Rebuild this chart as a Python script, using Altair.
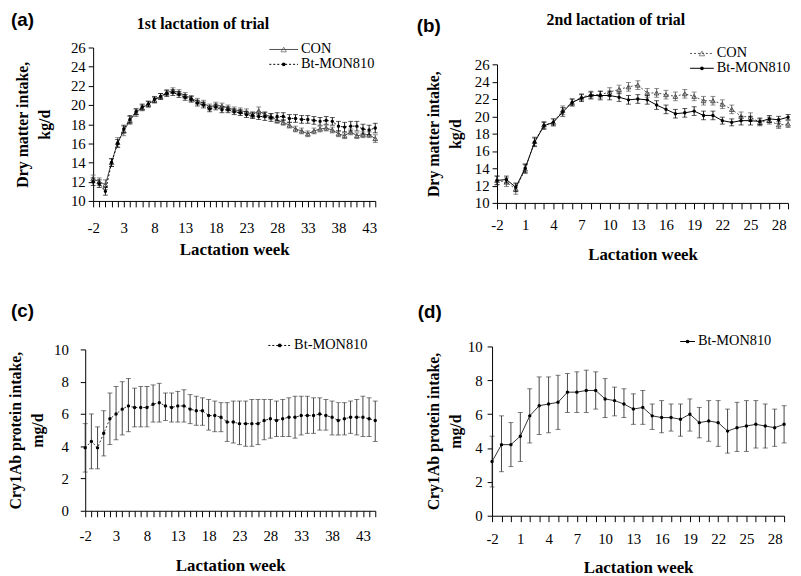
import altair as alt
import pandas as pd

# ---------------- data ----------------
weeks_a = list(range(-2, 45))
con_a = [12.3, 12.0, 11.7, 14.0, 16.1, 17.3, 18.4, 19.2, 19.7, 20.1,
         20.5, 20.9, 21.3, 21.5, 21.3, 21.0, 20.7, 20.4, 20.2, 19.8,
         20.0, 19.9, 19.7, 19.5, 19.4, 19.3, 19.0, 19.4, 19.0, 18.8,
         18.4, 18.2, 17.9, 17.5, 17.3, 17.0, 17.3, 17.5, 17.6, 17.4,
         17.0, 16.8, 17.2, 16.8, 16.9, 16.9, 16.5]
con_a_se = [0.4, 0.4, 0.5, 0.4, 0.5, 0.5, 0.4, 0.4, 0.3, 0.3,
            0.3, 0.3, 0.3, 0.3, 0.3, 0.3, 0.3, 0.3, 0.3, 0.3,
            0.3, 0.3, 0.3, 0.3, 0.3, 0.3, 0.3, 0.4, 0.3, 0.3,
            0.3, 0.3, 0.3, 0.3, 0.3, 0.3, 0.3, 0.3, 0.3, 0.3,
            0.3, 0.3, 0.3, 0.3, 0.3, 0.3, 0.4]
bt_a = [12.0, 11.8, 11.0, 14.0, 16.0, 17.5, 18.5, 19.3, 19.8, 20.1,
        20.6, 20.9, 21.2, 21.3, 21.1, 20.8, 20.6, 20.2, 20.0, 19.6,
        19.8, 19.5, 19.5, 19.3, 19.2, 19.0, 18.9, 18.8, 18.8, 18.7,
        18.8, 18.8, 18.6, 18.6, 18.5, 18.5, 18.4, 18.3, 18.4, 18.3,
        17.8, 17.7, 17.8, 17.8, 17.5, 17.4, 17.6]
bt_a_se = [0.4, 0.4, 0.4, 0.4, 0.4, 0.4, 0.4, 0.3, 0.3, 0.3,
           0.3, 0.3, 0.3, 0.3, 0.3, 0.3, 0.3, 0.3, 0.3, 0.3,
           0.3, 0.3, 0.3, 0.3, 0.3, 0.3, 0.3, 0.3, 0.4, 0.4,
           0.4, 0.4, 0.4, 0.4, 0.4, 0.4, 0.4, 0.4, 0.4, 0.4,
           0.5, 0.5, 0.5, 0.5, 0.5, 0.5, 0.5]

weeks_b = list(range(-2, 30))
con_b = [12.6, 12.4, 11.6, 13.9, 17.1, 19.0, 19.3, 20.7, 21.6, 22.2,
         22.5, 22.5, 22.8, 23.1, 23.4, 23.6, 22.7, 22.7, 22.5, 22.3,
         22.6, 22.3, 21.8, 21.8, 21.4, 20.8, 20.0, 19.9, 19.3, 19.5,
         19.0, 19.1]
con_b_se = [0.5, 0.5, 0.6, 0.5, 0.5, 0.4, 0.4, 0.5, 0.4, 0.4,
            0.4, 0.4, 0.5, 0.5, 0.5, 0.5, 0.5, 0.5, 0.5, 0.5,
            0.5, 0.5, 0.5, 0.5, 0.5, 0.5, 0.5, 0.5, 0.4, 0.4,
            0.4, 0.4]
bt_b = [12.6, 12.7, 11.8, 14.0, 17.0, 18.9, 19.3, 20.5, 21.6, 22.1,
        22.4, 22.4, 22.4, 22.2, 21.9, 22.0, 21.9, 21.3, 20.8, 20.3,
        20.4, 20.6, 20.1, 20.1, 19.5, 19.3, 19.5, 19.5, 19.4, 19.7,
        19.6, 19.9]
bt_b_se = [0.5, 0.4, 0.5, 0.5, 0.5, 0.4, 0.4, 0.5, 0.4, 0.4,
           0.4, 0.5, 0.5, 0.5, 0.5, 0.5, 0.5, 0.5, 0.5, 0.5,
           0.5, 0.5, 0.5, 0.5, 0.4, 0.4, 0.5, 0.5, 0.4, 0.4,
           0.4, 0.3]

weeks_c = list(range(-2, 46))
cry_c = [3.9, 4.3, 3.9, 4.8, 5.7, 6.0, 6.3, 6.5, 6.4, 6.4,
         6.4, 6.6, 6.7, 6.5, 6.4, 6.5, 6.5, 6.3, 6.2, 6.2,
         5.9, 5.9, 5.8, 5.5, 5.5, 5.4, 5.4, 5.4, 5.4, 5.6,
         5.7, 5.6, 5.7, 5.8, 5.8, 5.9, 5.9, 5.9, 6.0, 5.9,
         5.8, 5.6, 5.7, 5.8, 5.8, 5.8, 5.7, 5.6]
cry_c_lo = [2.4, 2.6, 2.6, 3.4, 4.1, 4.4, 4.7, 4.9, 5.2, 5.2,
            5.2, 5.5, 5.5, 5.6, 5.5, 5.5, 5.5, 5.4, 5.3, 5.3,
            5.0, 4.9, 4.9, 4.3, 4.2, 4.1, 4.0, 4.0, 4.1, 4.4,
            4.5, 4.6, 4.6, 4.6, 4.5, 4.7, 4.8, 4.8, 5.0, 5.0,
            4.7, 4.7, 4.7, 4.8, 4.7, 4.6, 4.6, 4.3]
cry_c_hi = [5.4, 6.0, 5.2, 6.2, 7.3, 7.7, 8.0, 8.2, 7.6, 7.7,
            7.7, 7.8, 7.9, 7.3, 7.3, 7.4, 7.5, 7.2, 7.1, 7.0,
            6.9, 6.8, 6.7, 6.7, 6.8, 6.8, 6.8, 6.9, 6.9, 6.9,
            6.9, 6.8, 6.9, 7.0, 7.1, 7.1, 7.1, 7.0, 7.0, 6.9,
            6.8, 6.7, 6.7, 6.8, 6.9, 7.1, 7.0, 6.8]

weeks_d = list(range(-2, 30))
cry_d = [3.2, 4.2, 4.2, 4.7, 5.9, 6.5, 6.6, 6.7, 7.3, 7.3,
         7.4, 7.4, 6.9, 6.8, 6.6, 6.3, 6.4, 5.9, 5.8, 5.8,
         5.7, 6.0, 5.5, 5.6, 5.5, 5.0, 5.2, 5.3, 5.4, 5.3,
         5.2, 5.4]
cry_d_lo = [1.7, 2.6, 2.9, 3.2, 4.3, 4.8, 4.9, 5.1, 6.1, 6.1,
            6.1, 6.3, 5.8, 5.9, 5.8, 5.4, 5.4, 5.1, 4.9, 5.0,
            4.7, 5.0, 4.6, 4.4, 4.1, 3.7, 3.8, 3.8, 4.0, 4.0,
            4.1, 4.3]
cry_d_hi = [4.7, 5.9, 5.5, 6.1, 7.5, 8.2, 8.2, 8.3, 8.4, 8.5,
            8.6, 8.5, 8.1, 7.6, 7.5, 7.2, 7.4, 6.6, 6.8, 6.6,
            6.6, 6.9, 6.4, 6.8, 6.8, 6.3, 6.7, 6.8, 6.8, 6.6,
            6.3, 6.5]

SERIF = "Liberation Serif"
SANS = "Liberation Sans"


def frame(weeks, vals, lo, hi):
    return pd.DataFrame({"week": weeks, "v": vals, "lo": lo, "hi": hi})


def se_frame(weeks, vals, se):
    return frame(weeks, vals, [a - b for a, b in zip(vals, se)],
                 [a + b for a, b in zip(vals, se)])


def text(t, x, y, size=15, font=SERIF, weight="normal", align="left"):
    return alt.Chart(pd.DataFrame({"t": [t]})).mark_text(
        font=font, fontSize=size, fontWeight=weight, align=align,
        baseline="middle", color="black").encode(
        text="t:N", x=alt.value(x), y=alt.value(y))


def legend_entry(x1, x2, y, label, color, dash, marker):
    kw = {"strokeDash": dash} if dash else {}
    line = alt.Chart(pd.DataFrame({"t": [0]})).mark_rule(
        color=color, strokeWidth=1, **kw).encode(
        x=alt.value(x1), x2=alt.value(x2), y=alt.value(y))
    xm = (x1 + x2) / 2
    if marker == "tri":
        pt = alt.Chart(pd.DataFrame({"t": [0]})).mark_point(
            shape="triangle-up", filled=False, size=30, color=color,
            strokeWidth=1).encode(x=alt.value(xm), y=alt.value(y))
    else:
        pt = alt.Chart(pd.DataFrame({"t": [0]})).mark_circle(
            size=14, color="black", opacity=1).encode(
            x=alt.value(xm), y=alt.value(y))
    return [line, pt, text(label, x2 + 3, y, size=14.5)]


def series(df, X, Ys, yaxis, color, dash, marker):
    kw = {"strokeDash": dash} if dash else {}
    rule = alt.Chart(df).mark_rule(color=color, strokeWidth=0.9).encode(
        x=X, y=alt.Y("lo:Q", scale=Ys, axis=yaxis), y2="hi:Q")
    tlo = alt.Chart(df).mark_tick(orient="horizontal", size=5, thickness=0.9,
                                  color=color).encode(
        x=X, y=alt.Y("lo:Q", scale=Ys, axis=yaxis))
    thi = alt.Chart(df).mark_tick(orient="horizontal", size=5, thickness=0.9,
                                  color=color).encode(
        x=X, y=alt.Y("hi:Q", scale=Ys, axis=yaxis))
    line = alt.Chart(df).mark_line(color=color, strokeWidth=1, **kw).encode(
        x=X, y=alt.Y("v:Q", scale=Ys, axis=yaxis))
    if marker == "tri":
        pts = alt.Chart(df).mark_point(shape="triangle-up", filled=False,
                                       size=22, color=color, strokeWidth=1,
                                       opacity=1).encode(
            x=X, y=alt.Y("v:Q", scale=Ys, axis=yaxis))
    else:
        pts = alt.Chart(df).mark_circle(size=12, color="black",
                                        opacity=1).encode(
            x=X, y=alt.Y("v:Q", scale=Ys, axis=yaxis))
    return [rule, tlo, thi, line, pts]


def axes(xdom, xrange, xstep, xoff, ydom, yrange, yoff, ytitle,
         ylabpad, xlabpad, ytitlepad, xtitlepad):
    xvals = list(range(xdom[0], xdom[1] + 1))
    X = alt.X("week:Q", scale=alt.Scale(domain=xdom, range=xrange, nice=False, zero=False),
              axis=alt.Axis(values=xvals, title="Lactation week",
                            labelExpr=f"(datum.value + 2) % {xstep} == 0 ? toString(datum.value) : ''",
                            labelOverlap=False, labelFlush=False,
                            labelFont=SERIF, labelFontSize=15, labelColor="black",
                            labelPadding=xlabpad, tickSize=6, tickColor="black",
                            domainColor="black", grid=False, offset=xoff,
                            titleFont=SERIF, titleFontSize=17, titleFontWeight="bold",
                            titleColor="black", titlePadding=xtitlepad))
    yvals = list(range(ydom[0], ydom[1] + 1, 2))
    Ys = alt.Scale(domain=ydom, range=yrange, nice=False, zero=False)
    yaxis = alt.Axis(values=yvals, title=ytitle, format="d",
                     labelFont=SERIF, labelFontSize=15, labelColor="black",
                     labelPadding=ylabpad, tickSize=5, tickColor="black",
                     domainColor="black", grid=False, offset=yoff,
                     labelFlush=False, labelOverlap=False,
                     titleFont=SERIF, titleFontSize=16, titleFontWeight="bold",
                     titleColor="black", titlePadding=ytitlepad, titleLineHeight=22)
    return X, Ys, yaxis


DMI = ["Dry matter intake,", "kg/d"]
CRY = ["Cry1Ab protein intake,", "mg/d"]
GRAY = "#505050"

# ---- panel (a) ----
X, Ys, ya = axes([-2, 44], [8, 293], 5, -2, [10, 26], [155, 0], -8, DMI, 3, 14, 18, 6)
pa = alt.layer(
    *series(se_frame(weeks_a, con_a, con_a_se), X, Ys, ya, GRAY, None, "tri"),
    *series(se_frame(weeks_a, bt_a, bt_a_se), X, Ys, ya, "black", [2, 2], "dot"),
    text("(a)", -75, -28, size=19, font=SANS, weight="bold"),
    text("1st lactation of trial", 119, -24, size=16, weight="bold", align="center"),
    *legend_entry(186, 215, 2, "CON", GRAY, None, "tri"),
    *legend_entry(186, 215, 17, "Bt-MON810", "black", [2, 2], "dot"),
).properties(width=293, height=157)

# ---- panel (b) ----
X, Ys, ya = axes([-2, 29], [5, 299], 3, 0, [10, 26], [157, 17], -5, DMI, 3, 9, 11, 14)
pb = alt.layer(
    *series(se_frame(weeks_b, con_b, con_b_se), X, Ys, ya, GRAY, [2, 2], "tri"),
    *series(se_frame(weeks_b, bt_b, bt_b_se), X, Ys, ya, "black", None, "dot"),
    text("(b)", -76, -22, size=19, font=SANS, weight="bold"),
    text("2nd lactation of trial", 125, -28, size=16, weight="bold", align="center"),
    *legend_entry(200, 224, 6, "CON", GRAY, [2, 2], "tri"),
    *legend_entry(200, 224, 21, "Bt-MON810", "black", None, "dot"),
).properties(width=300, height=157)

# ---- panel (c) ----
X, Ys, ya = axes([-2, 45], [0, 293], 5, -5, [0, 10], [166, 3], 0, CRY, 12, 12, 8, 14)
pc = alt.layer(
    *series(frame(weeks_c, cry_c, cry_c_lo, cry_c_hi), X, Ys, ya, "#333333", [2, 2], "dot"),
    text("(c)", -75, -36, size=19, font=SANS, weight="bold"),
    *legend_entry(185, 208, -1, "Bt-MON810", "black", [2, 2], "dot"),
).properties(width=293, height=171)

# ---- panel (d) ----
X, Ys, ya = axes([-2, 29], [0, 295], 3, 0, [0, 10], [171, 0], 0, CRY, 5, 10, 4, 13)
pd_ = alt.layer(
    *series(frame(weeks_d, cry_d, cry_d_lo, cry_d_hi), X, Ys, ya, "#333333", None, "dot"),
    text("(d)", -75, -35, size=19, font=SANS, weight="bold"),
    *legend_entry(190, 205, -5, "Bt-MON810", "black", None, "dot"),
).properties(width=300, height=171)

chart = alt.concat(pa, pb, pc, pd_, columns=2,
                   spacing={"row": 145, "column": 118}, bounds="flush").properties(
    padding=0, background="white"
).configure_view(stroke=None)

chart.save("out.html", embed_options={"renderer": "svg", "actions": False})
